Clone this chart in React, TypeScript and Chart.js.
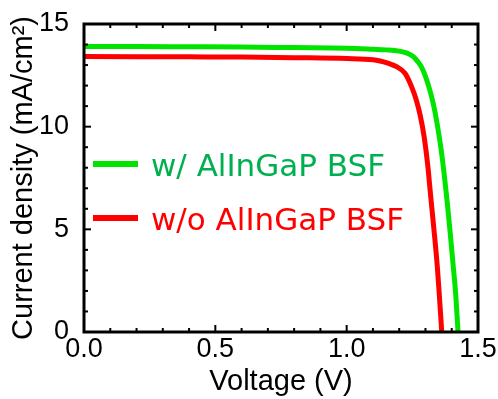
import React, { useEffect, useRef } from "react";
import { Chart, registerables } from "chart.js";

Chart.register(...registerables);

// ---- data ----
const greenV = [0, 0.2, 0.4, 0.6, 0.8, 1.0, 1.1, 1.15, 1.2, 1.23, 1.254, 1.27, 1.285, 1.3, 1.315, 1.33, 1.345, 1.36, 1.372, 1.383, 1.394, 1.405, 1.415, 1.424];
const greenJ = [13.9, 13.9, 13.89, 13.88, 13.85, 13.82, 13.77, 13.74, 13.68, 13.58, 13.41, 13.18, 12.9, 12.45, 11.85, 11.1, 10.1, 8.85, 7.6, 6.3, 4.85, 3.3, 1.85, 0];
const redV = [0, 0.2, 0.4, 0.6, 0.8, 1.0, 1.1, 1.127, 1.16, 1.19, 1.222, 1.247, 1.265, 1.28, 1.295, 1.308, 1.32, 1.333, 1.345, 1.353, 1.362];
const redJ = [13.42, 13.41, 13.4, 13.39, 13.36, 13.32, 13.26, 13.2, 13.08, 12.92, 12.6, 11.95, 11.3, 10.55, 9.5, 8.2, 6.6, 4.9, 3.2, 1.75, 0];

const seriesLabels = ["w/ AlInGaP BSF", "w/o AlInGaP BSF"];
const lineColors = ["#00e400", "#ff0000"];
const legendTextColors = ["#00b050", "#ff0000"];

const xMin = 0;
const xMax = 1.5;
const xMajorStep = 0.5;
const xMinorStep = 0.1;
const yMin = 0;
const yMax = 15;
const yMajorStep = 5;
const yMinorStep = 1;

const xTitle = "Voltage (V)";
const yTitle = "Current density (mA/cm²)";

const FONT = "'Liberation Sans', Arial, sans-serif";
const LEGEND_FONT = "'DejaVu Sans', Verdana, sans-serif";

const framePlugin = {
  id: "frameTicks",
  afterDraw(chart: any) {
    const { ctx, chartArea: a, scales } = chart;
    const x = scales.x;
    const y = scales.y;
    ctx.save();
    ctx.strokeStyle = "#000";
    ctx.lineWidth = 2;
    const seg = (x1: number, y1: number, x2: number, y2: number) => {
      ctx.beginPath();
      ctx.moveTo(x1, y1);
      ctx.lineTo(x2, y2);
      ctx.stroke();
    };
    const nx = Math.round((xMax - xMin) / xMinorStep);
    const perX = Math.round(xMajorStep / xMinorStep);
    for (let i = 0; i <= nx; i++) {
      const px = x.getPixelForValue(xMin + i * xMinorStep);
      const L = i % perX === 0 ? 7 : 4;
      seg(px, a.bottom, px, a.bottom - L);
      seg(px, a.top, px, a.top + L);
    }
    const ny = Math.round((yMax - yMin) / yMinorStep);
    const perY = Math.round(yMajorStep / yMinorStep);
    for (let j = 0; j <= ny; j++) {
      const py = y.getPixelForValue(yMin + j * yMinorStep);
      const L = j % perY === 0 ? 7 : 4;
      seg(a.left, py, a.left + L, py);
      seg(a.right, py, a.right - L, py);
    }
    ctx.lineWidth = 3;
    ctx.strokeRect(a.left, a.top, a.right - a.left, a.bottom - a.top);
    ctx.restore();
  },
};

const legendPlugin = {
  id: "inlineLegend",
  afterDraw(chart: any) {
    const { ctx, chartArea: a } = chart;
    ctx.save();
    chart.data.datasets.forEach((ds: any, i: number) => {
      const ly = a.top + 140 + i * 54;
      ctx.strokeStyle = ds.borderColor;
      ctx.lineWidth = 6;
      ctx.beginPath();
      ctx.moveTo(a.left + 9, ly);
      ctx.lineTo(a.left + 54, ly);
      ctx.stroke();
      ctx.fillStyle = legendTextColors[i];
      ctx.font = `31px ${LEGEND_FONT}`;
      ctx.textBaseline = "alphabetic";
      ctx.textAlign = "left";
      ctx.fillText(ds.label, a.left + 67, ly + 12);
    });
    ctx.restore();
  },
};

export default function App() {
  const ref = useRef<HTMLCanvasElement | null>(null);
  useEffect(() => {
    if (!ref.current) return;
    const chart = new Chart(ref.current, {
      type: "line",
      data: {
        datasets: [
          {
            label: seriesLabels[0],
            data: greenV.map((v, i) => ({ x: v, y: greenJ[i] })),
            borderColor: lineColors[0],
            backgroundColor: lineColors[0],
            borderWidth: 5,
            pointRadius: 0,
            cubicInterpolationMode: "monotone",
          },
          {
            label: seriesLabels[1],
            data: redV.map((v, i) => ({ x: v, y: redJ[i] })),
            borderColor: lineColors[1],
            backgroundColor: lineColors[1],
            borderWidth: 5,
            pointRadius: 0,
            cubicInterpolationMode: "monotone",
          },
        ],
      },
      options: {
        responsive: false,
        animation: false,
        layout: { padding: { top: 24, right: 20, left: 0, bottom: 0 } },
        plugins: { legend: { display: false }, tooltip: { enabled: false } },
        scales: {
          x: {
            type: "linear",
            min: xMin,
            max: xMax,
            grid: { display: false },
            border: { display: false },
            ticks: {
              stepSize: xMajorStep,
              padding: -7,
              color: "#000",
              font: { family: FONT, size: 27 },
              callback: (v: any) => Number(v).toFixed(1),
            },
            title: {
              display: true,
              text: xTitle,
              color: "#000",
              font: { family: FONT, size: 29 },
              padding: 0,
            },
            afterFit: (s: any) => {
              s.height = 67;
            },
          },
          y: {
            type: "linear",
            min: yMin,
            max: yMax,
            grid: { display: false },
            border: { display: false },
            ticks: {
              stepSize: yMajorStep,
              padding: 7,
              color: "#000",
              font: { family: FONT, size: 27 },
            },
            title: {
              display: true,
              text: yTitle,
              color: "#000",
              font: { family: FONT, size: 29 },
              padding: { top: 7, bottom: 0 },
            },
            afterFit: (s: any) => {
              s.width = 84;
            },
          },
        },
      },
      plugins: [framePlugin, legendPlugin],
    } as any);
    return () => chart.destroy();
  }, []);
  return (
    <div style={{ position: "fixed", left: 0, top: 0, width: 498, height: 399, background: "#fff" }}>
      <canvas ref={ref} width={498} height={399} style={{ display: "block" }} />
    </div>
  );
}
